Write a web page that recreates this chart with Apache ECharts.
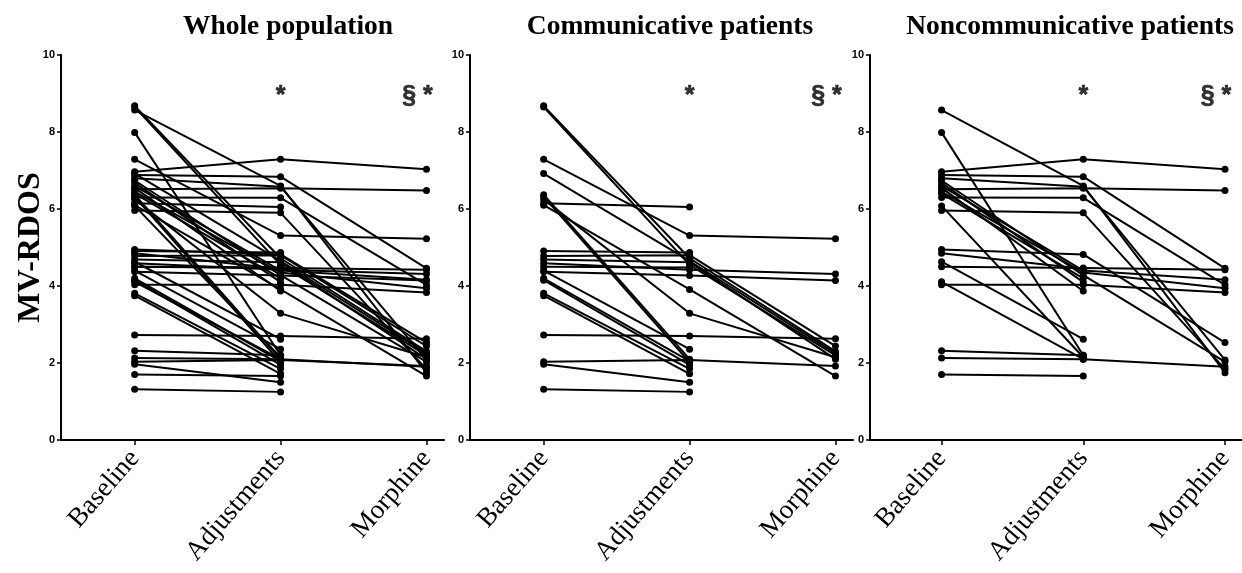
<!DOCTYPE html>
<html>
<head>
<meta charset="utf-8">
<script src="https://cdn.jsdelivr.net/npm/echarts@6/dist/echarts.min.js"></script>
<style>
html,body{margin:0;padding:0;background:#fff;}
#chart{width:1242px;height:573px;}
</style>
</head>
<body>
<div id="chart"></div>
<script>
const categories = ['Baseline', 'Adjustments', 'Morphine'];
const panelTitles = ['Whole population', 'Communicative patients', 'Noncommunicative patients'];
const yAxisName = 'MV-RDOS';
const annotations = ['', '*', '§ *'];
const annotationLevel = 9;

// Communicative patients (null = no morphine value)
const commBaseline = [7.29, 8.68, 8.65, 6.92, 6.25, 6.10, 2.73, 2.03, 4.59, 4.37, 4.78, 4.69, 6.15, 6.37, 6.32, 4.91, 4.50, 4.40, 4.20, 4.15, 3.81, 3.75, 1.97, 1.32];
const commAdjust   = [5.31, 4.72, 4.55, 4.65, 3.29, 3.91, 2.70, 2.08, 4.42, 4.27, 4.80, 4.62, 6.05, 2.10, 2.02, 4.87, 4.48, 2.36, 2.05, 1.95, 1.85, 1.72, 1.50, 1.25];
const commMorphine = [5.23, 2.30, 2.20, 2.25, 2.15, 1.66, 2.63, 1.92, 4.31, 4.14, 2.44, 2.10, null, null, null, null, null, null, null, null, null, null, null, null];

// Noncommunicative patients
const nonBaseline = [6.97, 6.51, 6.88, 8.57, 6.80, 6.30, 5.96, 4.95, 4.50, 6.60, 6.45, 6.74, 4.03, 2.13, 7.99, 6.08, 4.85, 4.63, 4.11, 2.32, 1.70, 6.40, 6.68, 6.55];
const nonAdjust   = [7.29, 6.54, 6.84, 6.60, 6.58, 6.29, 5.90, 4.82, 4.47, 4.40, 4.35, 4.28, 4.03, 2.10, 2.20, 2.15, 4.45, 2.62, 2.10, 2.20, 1.66, 4.20, 4.10, 3.87];
const nonMorphine = [7.03, 6.48, 4.46, 1.75, 2.08, 4.03, 1.84, 2.53, 4.42, 4.16, 3.94, 2.03, 3.83, 1.90, null, null, null, null, null, null, null, null, null, null];

const groups = [
  { b: commBaseline.concat(nonBaseline), a: commAdjust.concat(nonAdjust), m: commMorphine.concat(nonMorphine) },
  { b: commBaseline, a: commAdjust, m: commMorphine },
  { b: nonBaseline, a: nonAdjust, m: nonMorphine }
];

const gridLefts = [61, 470, 870];
const gridTop = 55, gridHeight = 385, gridWidth = 383;
const serif = '"Liberation Serif", "Times New Roman", serif';
const sans = '"Liberation Sans", Arial, sans-serif';

const grids = [], xAxes = [], yAxes = [], series = [], titles = [];
const titleCenters = [283, 665, 1065];

groups.forEach((g, p) => {
  grids.push({ left: gridLefts[p], top: gridTop, width: gridWidth, height: gridHeight, containLabel: false });
  titles.push({
    text: panelTitles[p], left: titleCenters[p], top: 8, textAlign: 'center',
    textStyle: { fontFamily: serif, fontWeight: 'bold', fontSize: 27.5, color: '#000' }
  });
  xAxes.push({
    type: 'value', gridIndex: p, min: -0.505, max: 2.12,
    axisLine: { show: true, onZero: false, lineStyle: { color: '#000', width: 2 } },
    axisTick: { show: true, customValues: [0, 1, 2], length: 5, lineStyle: { color: '#000', width: 1.5 } },
    axisLabel: {
      show: true, customValues: [0, 1, 2], rotate: 49, margin: 14,
      formatter: v => categories[Math.round(v)] || '',
      fontFamily: serif, fontSize: 27, color: '#000'
    },
    splitLine: { show: false }
  });
  yAxes.push({
    type: 'value', gridIndex: p, min: 0, max: 10, interval: 2,
    name: p === 0 ? yAxisName : '',
    nameLocation: 'middle', nameGap: 14, nameRotate: 90, nameMoveOverlap: false,
    nameTextStyle: { fontFamily: serif, fontWeight: 'bold', fontSize: 32, color: '#000' },
    axisLine: { show: true, onZero: false, lineStyle: { color: '#000', width: 2 } },
    axisTick: { show: true, length: 4, lineStyle: { color: '#000', width: 1.5 } },
    axisLabel: { fontFamily: sans, fontWeight: 'bold', fontSize: 11, color: '#000', margin: 6 },
    splitLine: { show: false }
  });
  for (let i = 0; i < g.b.length; i++) {
    const pts = [[0, g.b[i]], [1, g.a[i]]];
    if (g.m[i] !== null && g.m[i] !== undefined) pts.push([2, g.m[i]]);
    series.push({
      type: 'line', xAxisIndex: p, yAxisIndex: p, data: pts,
      symbol: 'circle', symbolSize: 7, showSymbol: true,
      lineStyle: { color: '#000', width: 2 }, itemStyle: { color: '#000' },
      silent: true, animation: false, z: 2
    });
  }
  series.push({
    type: 'scatter', xAxisIndex: p, yAxisIndex: p, symbolSize: 1,
    itemStyle: { color: 'rgba(0,0,0,0)' },
    data: annotations.map((t, k) => [k, annotationLevel, t]).filter(d => d[2] !== ''),
    label: {
      show: true, position: 'inside',
      formatter: pr => pr.data[2],
      fontFamily: sans, fontWeight: 'bold', fontSize: 25, color: '#000',
      textBorderColor: '#000', textBorderWidth: 0.6
    },
    labelLayout: pr => ({ dx: pr.text.length > 1 ? -9 : 0, dy: 3 }),
    silent: true, animation: false, z: 3
  });
});

const chart = echarts.init(document.getElementById('chart'), null, { renderer: 'canvas' });
chart.setOption({
  backgroundColor: '#fff',
  animation: false,
  title: titles,
  grid: grids,
  xAxis: xAxes,
  yAxis: yAxes,
  series: series
});
</script>
</body>
</html>
